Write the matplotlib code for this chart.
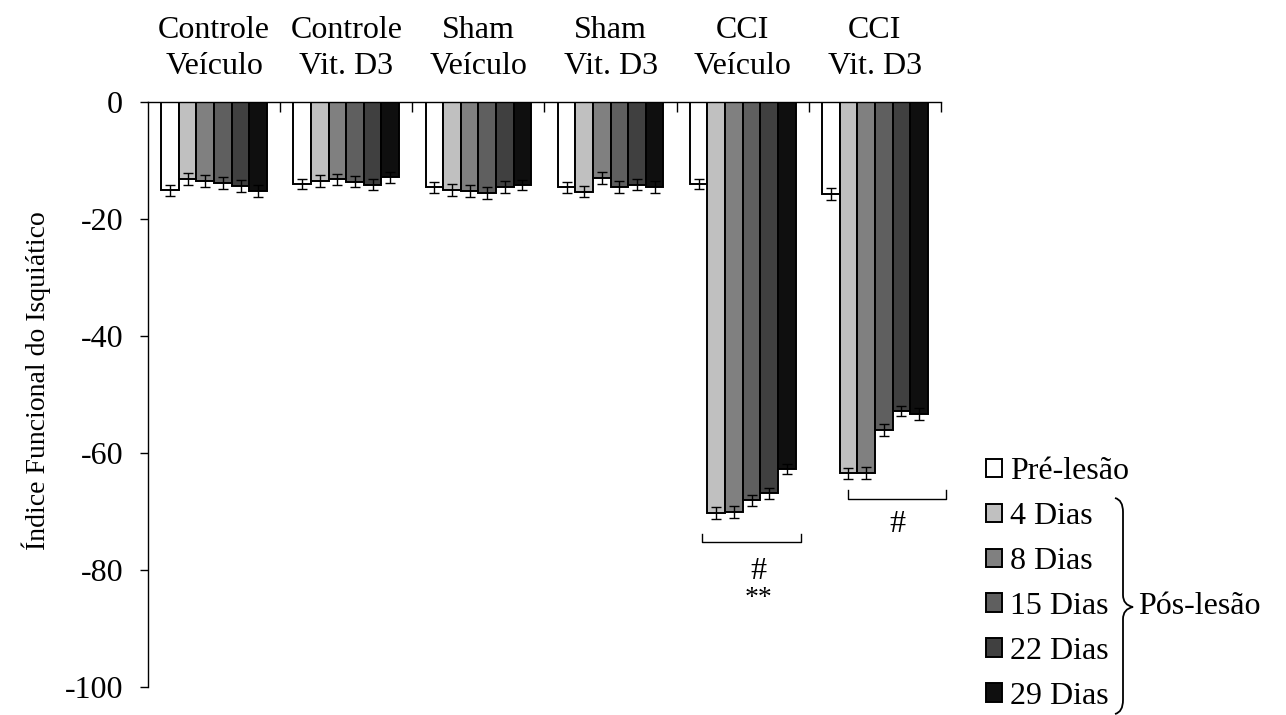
import matplotlib.pyplot as plt
import numpy as np
from matplotlib.path import Path
from matplotlib.patches import PathPatch

plt.rcParams['font.family'] = ['Liberation Serif', 'DejaVu Serif']
plt.rcParams['axes.unicode_minus'] = False

groups = ["Controle\nVeículo", "Controle\nVit. D3", "Sham\nVeículo",
          "Sham\nVit. D3", "CCI\nVeículo", "CCI\nVit. D3"]
series = ["Pré-lesão", "4 Dias", "8 Dias", "15 Dias", "22 Dias", "29 Dias"]
colors = ["#FFFFFF", "#C0C0C0", "#808080", "#5F5F5F", "#404040", "#0F0F0F"]

# values per series (one value per group)
pre_lesao = [-15.1, -14.0, -14.6, -14.6, -14.0, -15.7]
dias_4 = [-13.1, -13.5, -15.0, -15.3, -70.2, -63.5]
dias_8 = [-13.5, -13.2, -15.2, -13.0, -70.1, -63.4]
dias_15 = [-13.8, -13.6, -15.5, -14.5, -68.1, -56.1]
dias_22 = [-14.4, -14.1, -14.5, -14.1, -66.9, -52.8]
dias_29 = [-15.2, -12.9, -14.2, -14.5, -62.7, -53.3]

err_pre = [1.0, 0.9, 0.9, 1.0, 0.9, 1.0]
err_4 = [1.0, 1.0, 1.0, 1.0, 1.0, 1.0]
err_8 = [1.0, 0.9, 1.0, 1.0, 1.0, 1.0]
err_15 = [1.0, 1.0, 1.0, 1.0, 1.0, 1.0]
err_22 = [1.0, 1.0, 1.0, 0.9, 1.0, 0.9]
err_29 = [1.0, 0.9, 0.9, 1.0, 0.9, 1.0]

values = [pre_lesao, dias_4, dias_8, dias_15, dias_22, dias_29]
errors = [err_pre, err_4, err_8, err_15, err_22, err_29]

fig = plt.figure(figsize=(12.86, 7.15), dpi=100)
ax = fig.add_axes([0.1151, 0.0392, 0.6166, 0.8181])

x = np.arange(len(groups))
w = 0.8 / len(series)
handles = []
for k, (vals, errs) in enumerate(zip(values, errors)):
    pos = x - 0.4 + w * (k + 0.5)
    b = ax.bar(pos, vals, width=w, color=colors[k], edgecolor="black",
               linewidth=1.4, label=series[k], zorder=2)
    handles.append(b)
    ax.errorbar(pos, vals, yerr=errs, fmt="none", ecolor="black",
                elinewidth=1.0, capsize=3.6, capthick=1.0, zorder=3)

ax.set_xlim(-0.5, len(groups) - 0.5)
ax.set_ylim(-100, 0)
ax.set_yticks([0, -20, -40, -60, -80, -100])
ax.tick_params(axis="y", direction="out", length=6, width=1.0,
               labelsize=23, pad=12)

# x axis sits on top (y = 0), ticks at group boundaries
ax.spines["bottom"].set_visible(False)
ax.spines["right"].set_visible(False)
ax.spines["top"].set_linewidth(1.0)
ax.spines["left"].set_linewidth(1.0)
ax.xaxis.set_ticks_position("top")
ax.set_xticks(np.arange(0.5, len(groups), 1.0))
ax.set_xticklabels([])
ax.tick_params(axis="x", direction="in", length=7, width=1.0)

for i, g in enumerate(groups):
    ax.text(i, 1.092, g, transform=ax.get_xaxis_transform(), ha="center",
            va="center", fontsize=23, linespacing=1.3)

ax.set_ylabel("Índice Funcional do Isquiático", fontsize=20)
ax.yaxis.set_label_coords(-0.122, 0.523)

# significance brackets
ax.plot([3.69, 3.69, 4.44, 4.44], [-73.8, -75.3, -75.3, -73.8],
        color="black", lw=1.0, clip_on=False)
ax.text(4.12, -80.3, "#", ha="center", va="center", fontsize=23)
ax.text(4.12, -84.8, "**", ha="center", va="center", fontsize=20)
ax.plot([4.80, 4.80, 5.54, 5.54], [-66.3, -67.8, -67.8, -66.3],
        color="black", lw=1.0, clip_on=False)
ax.text(5.17, -72.3, "#", ha="center", va="center", fontsize=23)

# legend
fig.legend(handles=handles, labels=series, loc="upper left",
           bbox_to_anchor=(986 / 1286, 1 - 457 / 715), frameon=False,
           fontsize=23, handlelength=0.5, handleheight=0.5,
           handletextpad=0.25, labelspacing=0.5, borderpad=0,
           borderaxespad=0)

# curly brace grouping the post-lesion entries
def px(xp, yp):
    return (xp / 1286, 1 - yp / 715)

bx0, bx1, bxm = 1115, 1123, 1133
ytop, ymid, ybot = 498, 607, 714
verts = [px(bx0, ytop), px(bx1, ytop + 2), px(bx1, ytop + 14),
         px(bx1, ymid - 12),
         px(bx1, ymid - 2), px(bxm, ymid),
         px(bx1, ymid + 2), px(bx1, ymid + 12),
         px(bx1, ybot - 14),
         px(bx1, ybot - 2), px(bx0, ybot)]
codes = [Path.MOVETO, Path.CURVE3, Path.CURVE3, Path.LINETO,
         Path.CURVE3, Path.CURVE3, Path.CURVE3, Path.CURVE3,
         Path.LINETO, Path.CURVE3, Path.CURVE3]
brace = PathPatch(Path(verts, codes), transform=fig.transFigure,
                  fill=False, lw=1.3, edgecolor="black")
fig.patches.append(brace)
fig.text(1138 / 1286, 1 - 606 / 715, "Pós-lesão", ha="left", va="center",
         fontsize=23)

fig.savefig("out.png", dpi=100)
